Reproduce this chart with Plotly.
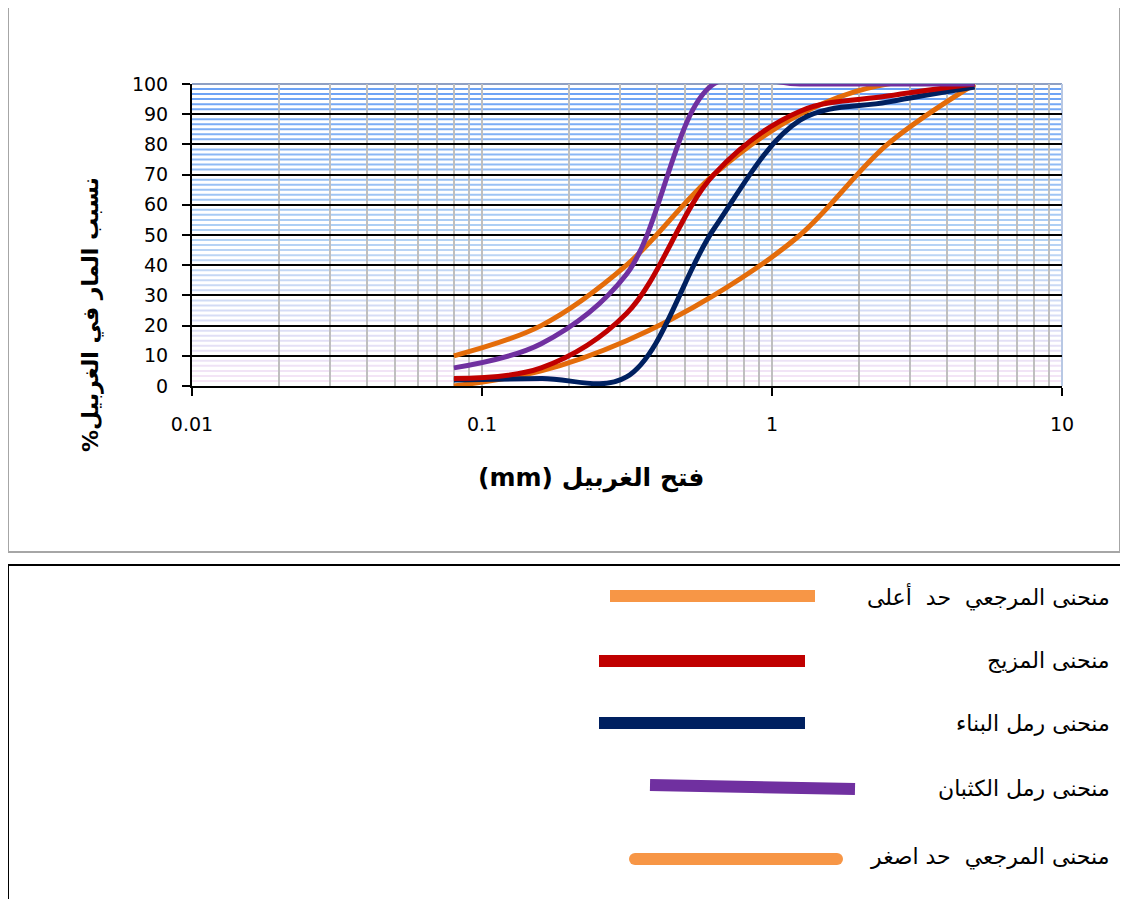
import plotly.graph_objects as go

# ── Data (sieve analysis) ─────────────────────────────────────────────────────
sieve_mm = [0.08, 0.16, 0.315, 0.63, 1.25, 2.5, 5]

upper_limit = [10, 20, 40, 70, 90, 100, 100]
lower_limit = [0, 5, 15, 30, 50, 80, 100]
mix_curve = [2.5, 6, 24, 70, 91, 96, 100]
building_sand = [2, 2.5, 3, 52, 88, 94, 99]
dune_sand = [6, 14, 37, 100, 100, 100, 100]

y_ticks = [0, 10, 20, 30, 40, 50, 60, 70, 80, 90, 100]
x_ticks = [0.01, 0.1, 1, 10]
x_ticklabels = ["0.01", "0.1", "1", "10"]

legend_labels = [
    "منحنى المرجعي  حد  أعلى",
    "منحنى المزيج",
    "منحنى رمل البناء",
    "منحنى رمل الكثبان",
    "منحنى المرجعي  حد اصغر",
]

x_title = "(mm) فتح الغربيل"
y_title = "%نسبب المار في الغربيل"

ORANGE = "#E46C0A"
RED = "#C00000"
NAVY = "#002060"
PURPLE = "#7030A0"
LEG_ORANGE = "#F79646"

# ── Page geometry (the page body adds an 8px offset) ─────────────────────────
OFF = 8
W, H = 1120, 891
L, R, T, B = 184, 66, 76, 513
PW, PH = W - L - R, H - T - B


def px_x(p):
    return (p - OFF - L) / PW


def px_y(p):
    return (H - B - (p - OFF)) / PH


def mix_rgb(c1, c2, t):
    return "rgb(%d,%d,%d)" % tuple(round(a + (b - a) * t) for a, b in zip(c1, c2))


fig = go.Figure()

series = [
    (upper_limit, ORANGE),
    (lower_limit, ORANGE),
    (building_sand, NAVY),
    (mix_curve, RED),
    (dune_sand, PURPLE),
]
for vals, col in series:
    fig.add_trace(go.Scatter(
        x=sieve_mm, y=vals, mode="lines",
        line=dict(color=col, width=5, shape="spline", smoothing=1),
        showlegend=False, hoverinfo="skip",
    ))

shapes = []

# minor horizontal grid: blue at top fading to pale pink at the bottom
top_c, mid_c, bot_c = (105, 160, 245), (178, 210, 245), (248, 230, 246)
for k in range(10):
    for j in range(1, 6):
        yv = 10 * k + j * 10 / 6
        t = yv / 100
        col = mix_rgb(bot_c, mid_c, t * 2) if t < 0.5 else mix_rgb(mid_c, top_c, (t - 0.5) * 2)
        shapes.append(dict(type="line", xref="paper", yref="y", x0=0, x1=1, y0=yv, y1=yv,
                           line=dict(color=col, width=2), layer="below"))

# major vertical grid at 0.1 and 1 (gradient navy -> purple/crimson)
for xf, bottom in [(1 / 3, (70, 0, 80)), (2 / 3, (165, 0, 80))]:
    n = 30
    for i in range(n):
        y0, y1 = i / n, (i + 1) / n
        shapes.append(dict(type="line", xref="paper", yref="paper", x0=xf, x1=xf, y0=y0, y1=y1,
                           line=dict(color=mix_rgb(bottom, (20, 20, 100), (i + 0.5) / n), width=2),
                           layer="between"))

# top and right edges of the plot area
shapes.append(dict(type="line", xref="paper", yref="paper", x0=0, x1=1, y0=1, y1=1,
                   line=dict(color="#8EA0C4", width=2), layer="between"))
shapes.append(dict(type="line", xref="paper", yref="paper", x0=1, x1=1, y0=0, y1=1,
                   line=dict(color="#B8C8E4", width=2), layer="between"))

# chart border and legend box
shapes.append(dict(type="rect", xref="paper", yref="paper",
                   x0=px_x(8), x1=px_x(1120), y0=px_y(552), y1=px_y(4),
                   line=dict(color="#A6A6A6", width=2)))
shapes.append(dict(type="rect", xref="paper", yref="paper",
                   x0=px_x(8), x1=px_x(1140), y0=px_y(920), y1=px_y(565),
                   line=dict(color="black", width=2)))

# legend swatches (drawn as plain strokes like the original)
sw = [
    (610, 596, 815, 596, LEG_ORANGE),
    (599, 661, 805, 661, RED),
    (599, 723, 805, 723, NAVY),
    (650, 785, 855, 789, PURPLE),
]
for x0, y0, x1, y1, col in sw:
    shapes.append(dict(type="line", xref="paper", yref="paper",
                       x0=px_x(x0), y0=px_y(y0), x1=px_x(x1), y1=px_y(y1),
                       line=dict(color=col, width=12)))
# rounded swatch for the lower limit
shapes.append(dict(type="line", xref="paper", yref="paper",
                   x0=px_x(635), y0=px_y(859), x1=px_x(837), y1=px_y(859),
                   line=dict(color=LEG_ORANGE, width=12)))
for cx in (635, 837):
    shapes.append(dict(type="circle", xref="paper", yref="paper",
                       x0=px_x(cx - 6), x1=px_x(cx + 6), y0=px_y(865), y1=px_y(853),
                       fillcolor=LEG_ORANGE, line=dict(width=0)))

annotations = []
for lab, yc in zip(legend_labels, [597, 660, 723, 788, 857]):
    annotations.append(dict(text=lab, xref="paper", yref="paper", x=px_x(1112), y=px_y(yc),
                            xanchor="right", yanchor="middle", showarrow=False,
                            font=dict(family="DejaVu Sans", size=22, color="black")))

annotations.append(dict(text="<b>" + x_title + "</b>", xref="paper", yref="paper",
                        x=px_x(591), y=px_y(478), xanchor="center", yanchor="middle",
                        showarrow=False, font=dict(family="DejaVu Sans", size=25, color="black")))
annotations.append(dict(text="<b>" + y_title + "</b>", xref="paper", yref="paper",
                        x=px_x(91), y=px_y(315), xanchor="center", yanchor="middle",
                        textangle=-90, showarrow=False,
                        font=dict(family="DejaVu Sans", size=22, color="black")))

fig.update_layout(
    width=W, height=H,
    margin=dict(l=L, r=R, t=T, b=B),
    paper_bgcolor="white", plot_bgcolor="white",
    shapes=shapes, annotations=annotations,
    showlegend=False,
    xaxis=dict(
        type="log", range=[-2, 1],
        tickvals=x_ticks, ticktext=x_ticklabels,
        showgrid=False, zeroline=False,
        showline=True, linecolor="black", linewidth=2,
        ticks="outside", ticklen=8, tickwidth=2, tickcolor="black",
        ticklabelstandoff=12,
        tickfont=dict(family="DejaVu Sans", size=19, color="black"),
        minor=dict(dtick="D1", showgrid=True, gridcolor="#BFBFBF", gridwidth=2, ticks=""),
    ),
    yaxis=dict(
        range=[0, 100], tickvals=y_ticks,
        showgrid=True, gridcolor="black", gridwidth=2,
        zeroline=False,
        showline=True, linecolor="black", linewidth=2,
        ticks="outside", ticklen=8, tickwidth=2, tickcolor="black",
        ticklabelstandoff=10,
        tickfont=dict(family="DejaVu Sans", size=19, color="black"),
    ),
)

fig.write_html("out.html")
